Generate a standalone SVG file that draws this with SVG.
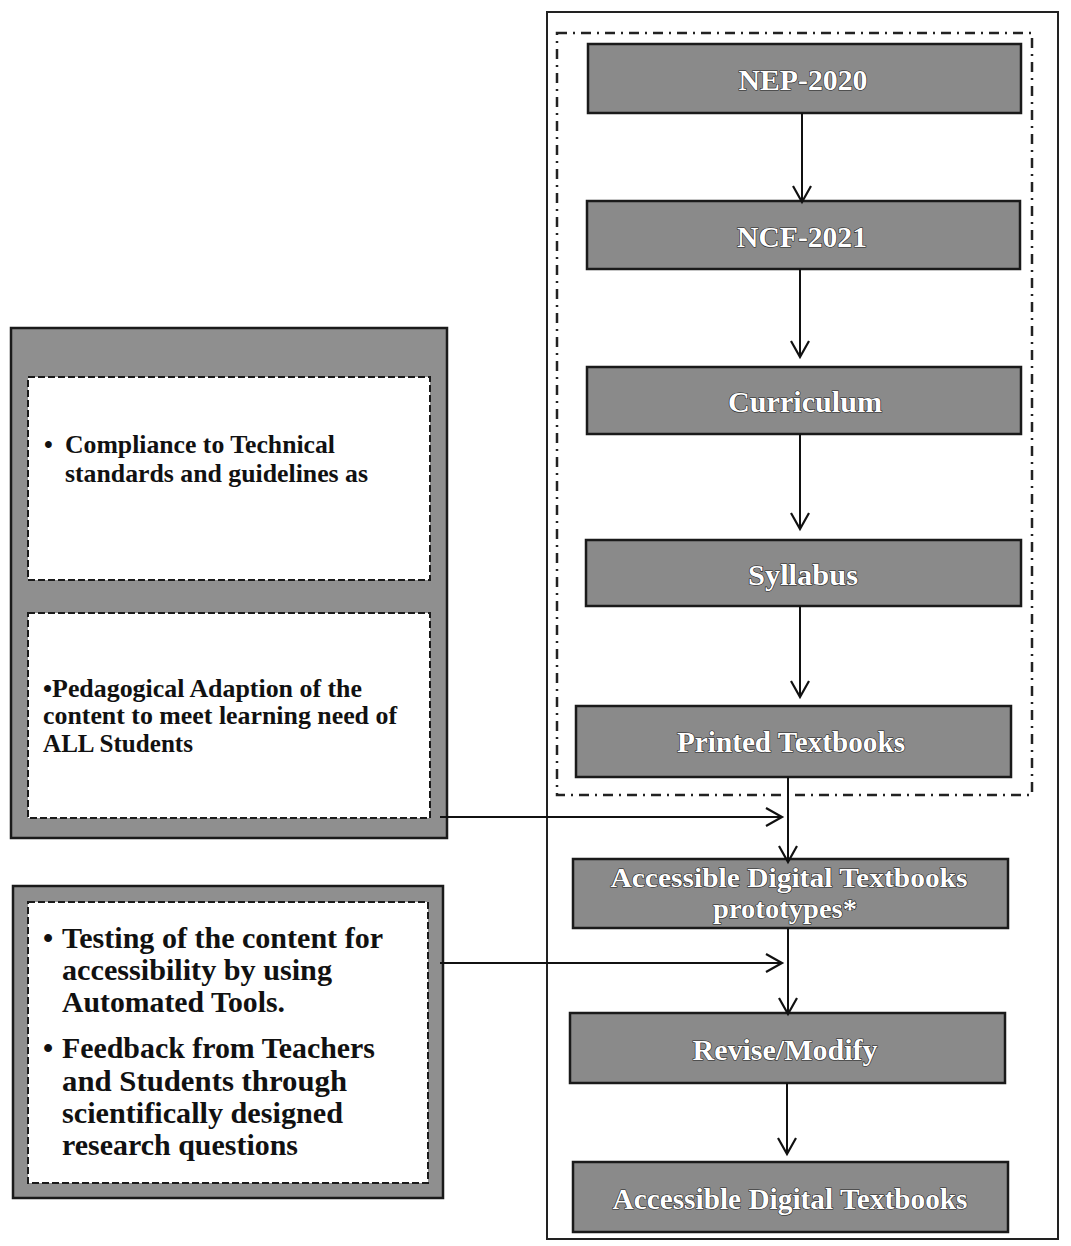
<svg xmlns="http://www.w3.org/2000/svg" width="1071" height="1246" viewBox="0 0 1071 1246">
<style>
.node{fill:#8a8a8a;stroke:#1a1a1a;stroke-width:2.5}
.nt{font-family:"Liberation Serif",serif;font-weight:bold;font-size:30px;fill:#fff;stroke:#222;stroke-width:1.2;paint-order:stroke;text-anchor:middle}
.sm{font-size:27px}
.panel{fill:#8f8f8f;stroke:#1a1a1a;stroke-width:2.5}
.inner{fill:#fff;stroke:#1a1a1a;stroke-width:2;stroke-dasharray:7 3}
.bt{font-family:"Liberation Serif",serif;font-weight:bold;fill:#111}
.p1{font-size:25px}
.p2{font-size:29px}
.conn{stroke:#111;stroke-width:2;fill:none}
</style>
<defs>
<marker id="ah" markerWidth="24" markerHeight="24" refX="20" refY="12" orient="auto" markerUnits="userSpaceOnUse">
<path d="M4,3 L20,12 L4,21" fill="none" stroke="#111" stroke-width="2.2"/>
</marker>
</defs>
<rect width="1071" height="1246" fill="#fff"/>
<g id="frame">
<rect x="547" y="12" width="511" height="1227" fill="none" stroke="#222" stroke-width="2"/>
<rect x="557" y="33" width="475" height="762" fill="none" stroke="#222" stroke-width="2.5" stroke-dasharray="10 6 2 6"/>
</g>
<g id="panel1">
<rect class="panel" x="11" y="328" width="436" height="510"/>
<rect class="inner" x="28" y="377" width="402" height="203"/>
<rect class="inner" x="28" y="613" width="402" height="205"/>
<text class="bt p1" x="44" y="453">•</text>
<text class="bt p1" x="65" y="453" textLength="270" lengthAdjust="spacingAndGlyphs">Compliance to Technical</text>
<text class="bt p1" x="65" y="482" textLength="303" lengthAdjust="spacingAndGlyphs">standards and guidelines as</text>
<text class="bt p1" x="43" y="697" textLength="319" lengthAdjust="spacingAndGlyphs">•Pedagogical Adaption of the</text>
<text class="bt p1" x="43" y="724" textLength="354" lengthAdjust="spacingAndGlyphs">content to meet learning need of</text>
<text class="bt p1" x="43" y="752" textLength="150" lengthAdjust="spacingAndGlyphs">ALL Students</text>
</g>
<g id="panel2">
<rect class="panel" x="13" y="886" width="430" height="312"/>
<rect class="inner" x="28" y="902" width="400" height="281"/>
<text class="bt p2" x="43" y="948">•</text>
<text class="bt p2" x="62" y="948" textLength="321" lengthAdjust="spacingAndGlyphs">Testing of the content for</text>
<text class="bt p2" x="62" y="980" textLength="270" lengthAdjust="spacingAndGlyphs">accessibility by using</text>
<text class="bt p2" x="62" y="1012" textLength="223" lengthAdjust="spacingAndGlyphs">Automated Tools.</text>
<text class="bt p2" x="43" y="1058">•</text>
<text class="bt p2" x="62" y="1058" textLength="313" lengthAdjust="spacingAndGlyphs">Feedback from Teachers</text>
<text class="bt p2" x="62" y="1091" textLength="285" lengthAdjust="spacingAndGlyphs">and Students  through</text>
<text class="bt p2" x="62" y="1123" textLength="281" lengthAdjust="spacingAndGlyphs">scientifically designed</text>
<text class="bt p2" x="62" y="1155" textLength="236" lengthAdjust="spacingAndGlyphs">research  questions</text>
</g>
<g id="n1"><rect class="node" x="588" y="44" width="433" height="69"/><text class="nt" x="803" y="90" textLength="129" lengthAdjust="spacingAndGlyphs">NEP-2020</text></g>
<g id="n2"><rect class="node" x="587" y="201" width="433" height="68"/><text class="nt" x="802" y="247" textLength="130" lengthAdjust="spacingAndGlyphs">NCF-2021</text></g>
<g id="n3"><rect class="node" x="587" y="367" width="434" height="67"/><text class="nt" x="805" y="412" textLength="154" lengthAdjust="spacingAndGlyphs">Curriculum</text></g>
<g id="n4"><rect class="node" x="586" y="540" width="435" height="66"/><text class="nt" x="803" y="585" textLength="110" lengthAdjust="spacingAndGlyphs">Syllabus</text></g>
<g id="n5"><rect class="node" x="576" y="706" width="435" height="71"/><text class="nt" x="791" y="752" textLength="228" lengthAdjust="spacingAndGlyphs">Printed Textbooks</text></g>
<g id="n6"><rect class="node" x="573" y="859" width="435" height="69"/><text class="nt sm" x="789" y="887" textLength="357" lengthAdjust="spacingAndGlyphs">Accessible Digital Textbooks</text><text class="nt sm" x="785" y="918" textLength="144" lengthAdjust="spacingAndGlyphs">prototypes*</text></g>
<g id="n7"><rect class="node" x="570" y="1013" width="435" height="70"/><text class="nt" x="785" y="1060" textLength="185" lengthAdjust="spacingAndGlyphs">Revise/Modify</text></g>
<g id="n8"><rect class="node" x="573" y="1162" width="435" height="70"/><text class="nt" x="790" y="1209" textLength="355" lengthAdjust="spacingAndGlyphs">Accessible Digital Textbooks</text></g>
<g id="connectors">
<line class="conn" x1="802" y1="113" x2="802" y2="202" marker-end="url(#ah)"/>
<line class="conn" x1="800" y1="269" x2="800" y2="357" marker-end="url(#ah)"/>
<line class="conn" x1="800" y1="434" x2="800" y2="529" marker-end="url(#ah)"/>
<line class="conn" x1="800" y1="606" x2="800" y2="697" marker-end="url(#ah)"/>
<line class="conn" x1="788" y1="777" x2="788" y2="862" marker-end="url(#ah)"/>
<line class="conn" x1="788" y1="928" x2="788" y2="1014" marker-end="url(#ah)"/>
<line class="conn" x1="787" y1="1083" x2="787" y2="1154" marker-end="url(#ah)"/>
<line class="conn" x1="440" y1="817" x2="782" y2="817" marker-end="url(#ah)"/>
<line class="conn" x1="440" y1="963" x2="782" y2="963" marker-end="url(#ah)"/>
</g>
</svg>
